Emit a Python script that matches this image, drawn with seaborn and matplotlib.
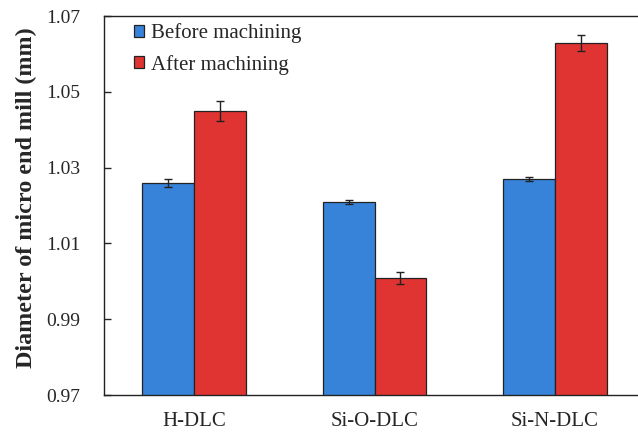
import matplotlib
matplotlib.use("Agg")
import matplotlib.pyplot as plt
import seaborn as sns
import pandas as pd
import numpy as np

# data
coatings = ["H-DLC", "Si-O-DLC", "Si-N-DLC"]
conditions = ["Before machining", "After machining"]
before = [1.026, 1.021, 1.027]
after = [1.045, 1.001, 1.063]
before_err = [0.0010, 0.0005, 0.0005]
after_err = [0.0026, 0.0016, 0.0021]
y_ticks = [0.97, 0.99, 1.01, 1.03, 1.05, 1.07]

df = pd.DataFrame({
    "coating": coatings * 2,
    "condition": [conditions[0]] * 3 + [conditions[1]] * 3,
    "diameter": before + after,
})

sns.set_style("white")
plt.rcParams["font.family"] = ["Liberation Serif", "DejaVu Serif"]

fig = plt.figure(figsize=(6.38, 4.32), dpi=100)
ax = fig.add_axes([0.163, 0.0856, 0.848, 0.877])

sns.barplot(data=df, x="coating", y="diameter", hue="condition",
            order=coatings, hue_order=conditions,
            palette=["#3783D9", "#DF3432"], saturation=1, width=0.575,
            edgecolor="#222222", linewidth=0.9, errorbar=None, ax=ax)

# error bars at the centres of the drawn bars
errs = before_err + after_err
for p, e in zip(ax.patches[:6], errs):
    xc = p.get_x() + p.get_width() / 2
    ax.errorbar(xc, p.get_y() + p.get_height(), yerr=e, fmt="none",
                ecolor="#222222", elinewidth=1.0, capsize=3.2, capthick=1.0)

ax.set_ylim(0.97, 1.07)
ax.set_yticks(y_ticks)
ax.set_yticklabels([f"{t:.2f}" for t in y_ticks])
ax.set_xlim(-0.5, 2.5)
ax.set_xticks([0.5, 1.5], minor=True)
ax.tick_params(axis="x", which="major", length=0, labelsize=15, pad=12)
ax.tick_params(axis="x", which="minor", direction="in", length=5, width=1, colors="#444444")
ax.tick_params(axis="y", direction="in", length=5, width=1, labelsize=14, pad=17, left=True)
ax.set_xlabel("")
ax.set_ylabel("Diameter of micro end mill (mm)", fontsize=17.4, fontweight="bold")
ax.yaxis.set_label_coords(-0.124, 0.52)

for s in ax.spines.values():
    s.set_color("#222222")
    s.set_linewidth(1.0)

leg = ax.legend(loc="upper left", bbox_to_anchor=(0.02, 1.03), frameon=False,
                fontsize=15, handlelength=0.5, handleheight=0.5,
                handletextpad=0.35, labelspacing=0.55)

fig.savefig("out.png", dpi=100)
